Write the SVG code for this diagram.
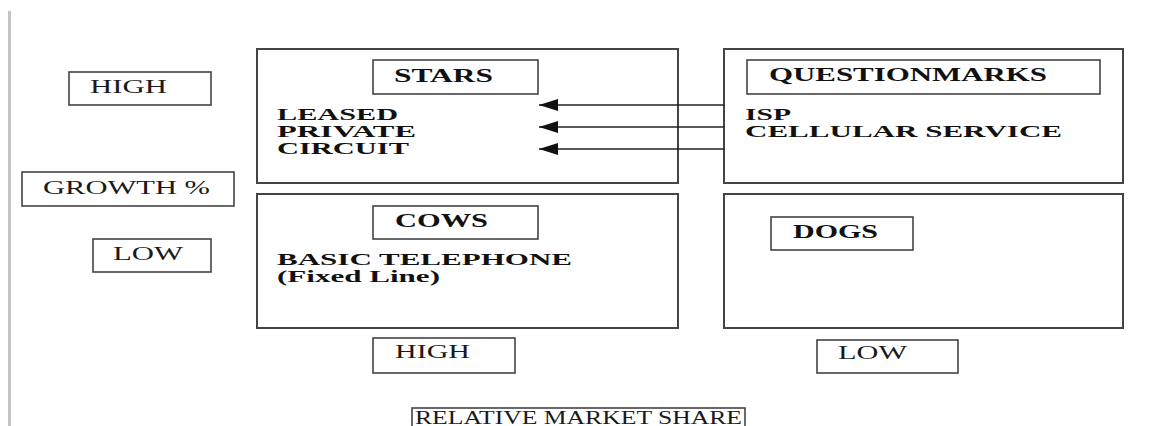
<svg xmlns="http://www.w3.org/2000/svg" width="1151" height="426" viewBox="0 0 1151 426">
<style>
.q{fill:#fff;stroke:#444;stroke-width:2}
.b{fill:#fff;stroke:#444;stroke-width:1.6}
.t{font-family:"Liberation Serif","Times New Roman",serif;font-size:18px;fill:#1a1a1a}
.tb{font-family:"Liberation Serif","Times New Roman",serif;font-size:18px;font-weight:bold;fill:#111}
.tl{font-family:"Liberation Serif","Times New Roman",serif;font-size:17px;font-weight:bold;fill:#111}
.c{stroke:#222;stroke-width:1.6;fill:none}
</style>
<defs>
<marker id="ah" markerUnits="userSpaceOnUse" markerWidth="20" markerHeight="12" refX="19" refY="6" orient="auto">
<path d="M0,0 L19,6 L0,12 Z" fill="#111"/>
</marker>
</defs>
<rect width="1151" height="426" fill="#fff"/>
<line x1="9.5" y1="11" x2="9.5" y2="426" stroke="#c4c4c4" stroke-width="3"/>

<g id="growth-high"><rect class="b" x="69" y="72" width="142" height="33"/><text class="t" x="90" y="93" textLength="77" lengthAdjust="spacingAndGlyphs">HIGH</text></g>
<g id="growth-label"><rect class="b" x="22" y="172" width="212" height="34"/><text class="t" x="43" y="194" textLength="167" lengthAdjust="spacingAndGlyphs">GROWTH %</text></g>
<g id="growth-low"><rect class="b" x="93" y="239" width="118" height="33"/><text class="t" x="113" y="260" textLength="70" lengthAdjust="spacingAndGlyphs">LOW</text></g>

<g id="stars">
<rect class="q" x="257" y="49" width="421" height="134"/>
<rect class="b" x="373" y="60" width="165" height="34"/>
<text class="tb" x="394" y="82" textLength="99" lengthAdjust="spacingAndGlyphs">STARS</text>
<text class="tl" x="277" y="120" textLength="121" lengthAdjust="spacingAndGlyphs">LEASED</text>
<text class="tl" x="277" y="137" textLength="139" lengthAdjust="spacingAndGlyphs">PRIVATE</text>
<text class="tl" x="277" y="154" textLength="132" lengthAdjust="spacingAndGlyphs">CIRCUIT</text>
</g>

<g id="questionmarks">
<rect class="q" x="724" y="49" width="399" height="134"/>
<rect class="b" x="747" y="60" width="353" height="34"/>
<text class="tb" x="769" y="81" textLength="278" lengthAdjust="spacingAndGlyphs">QUESTIONMARKS</text>
<text class="tl" x="745" y="120" textLength="46" lengthAdjust="spacingAndGlyphs">ISP</text>
<text class="tl" x="745" y="137" textLength="317" lengthAdjust="spacingAndGlyphs">CELLULAR SERVICE</text>
</g>

<g id="cows">
<rect class="q" x="257" y="194" width="421" height="134"/>
<rect class="b" x="373" y="206" width="165" height="33"/>
<text class="tb" x="395" y="227" textLength="93" lengthAdjust="spacingAndGlyphs">COWS</text>
<text class="tl" x="277" y="265" textLength="295" lengthAdjust="spacingAndGlyphs">BASIC TELEPHONE</text>
<text class="tl" x="277" y="282" textLength="163" lengthAdjust="spacingAndGlyphs">(Fixed Line)</text>
</g>

<g id="dogs">
<rect class="q" x="724" y="194" width="399" height="134"/>
<rect class="b" x="771" y="217" width="142" height="33"/>
<text class="tb" x="793" y="238" textLength="85" lengthAdjust="spacingAndGlyphs">DOGS</text>
</g>

<g id="share-high"><rect class="b" x="373" y="338" width="142" height="35"/><text class="t" x="395" y="358" textLength="75" lengthAdjust="spacingAndGlyphs">HIGH</text></g>
<g id="share-low"><rect class="b" x="817" y="340" width="141" height="33"/><text class="t" x="838" y="359" textLength="69" lengthAdjust="spacingAndGlyphs">LOW</text></g>
<g id="share-label"><rect class="b" x="412" y="408" width="333" height="30"/><text class="t" x="415" y="424" textLength="327" lengthAdjust="spacingAndGlyphs">RELATIVE MARKET SHARE</text></g>

<g id="connectors">
<line class="c" x1="724" y1="105" x2="539" y2="105" marker-end="url(#ah)"/>
<line class="c" x1="724" y1="127" x2="539" y2="127" marker-end="url(#ah)"/>
<line class="c" x1="724" y1="149" x2="539" y2="149" marker-end="url(#ah)"/>
</g>
</svg>
